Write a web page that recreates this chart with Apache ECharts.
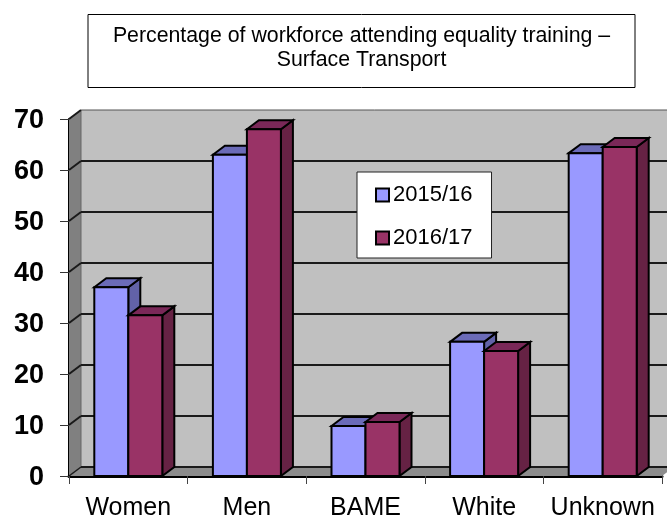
<!DOCTYPE html>
<html><head><meta charset="utf-8">
<style>html,body{margin:0;padding:0;background:#fff}#c{width:667px;height:515px}</style>
<script src="https://cdn.jsdelivr.net/npm/echarts@6/dist/echarts.min.js"></script>
</head><body><div id="c"></div>
<script>
const categories = ['Women','Men','BAME','White','Unknown'];
const values2015 = [37, 63, 9.8, 26.3, 63.3];
const values2016 = [31.5, 68, 10.6, 24.5, 64.5];
const gridTicks = [0,10,20,30,40,50,60,70];
const titleText = 'Percentage of workforce attending equality training –\nSurface Transport';

const DX = 12, DY = -9, FONT = '"Liberation Sans", Arial, sans-serif';

function wallItem(params, api) {
  const g = params.coordSys, x0 = g.x, x1 = g.x + g.width, y0 = g.y, y1 = g.y + g.height;
  const line = (a, b, c, d, w, col) => ({type:'line', shape:{x1:a,y1:b,x2:c,y2:d}, style:{stroke:col||'#1a1a1a', lineWidth:w}, silent:true});
  const poly = (pts, fill) => ({type:'polygon', shape:{points:pts}, style:{fill, stroke:null}, silent:true});
  const children = [
    poly([[x0+DX,y0+DY],[x1+DX,y0+DY],[x1+DX,y1+DY],[x0+DX,y1+DY]], '#c0c0c0'),
    poly([[x0,y0],[x0+DX,y0+DY],[x0+DX,y1+DY],[x0,y1]], '#808080'),
    poly([[x0,y1],[x0+DX,y1+DY],[x1+DX,y1+DY],[x1,y1]], '#8c8c8c'),
    line(x0+DX,y0+DY,x0+DX,y1+DY,1,'#666'),
  ];
  gridTicks.forEach(t => {
    const y = api.coord([0,t])[1];
    children.push(line(x0,y,x0+DX,y+DY,t===0?1.5:2));
    children.push(line(x0+DX,y+DY,x1+DX,y+DY,t===70?1:2,t===70?'#555':'#1a1a1a'));
  });
  return {type:'group', children};
}

function barItem(dir, face, top, side) {
  return function (params, api) {
    const p = api.coord([api.value(0), api.value(1)]);
    const base = api.coord([api.value(0), 0]);
    const w = api.size([1,0])[0] * 0.2867;
    const l = dir < 0 ? p[0] - w : p[0], r = l + w, t = p[1], b = base[1];
    const st = f => ({fill:f, stroke:'#000', lineWidth:2, lineJoin:'miter'});
    return {type:'group', children:[
      {type:'polygon', shape:{points:[[r,t],[r+DX,t+DY],[r+DX,b+DY],[r,b]]}, style:st(side)},
      {type:'polygon', shape:{points:[[l,t],[l+DX,t+DY],[r+DX,t+DY],[r,t]]}, style:st(top)},
      {type:'rect', shape:{x:l,y:t,width:w,height:b-t}, style:st(face)},
    ]};
  };
}

const chart = echarts.init(document.getElementById('c'), null, {renderer:'canvas'});
chart.setOption({
  animation:false,
  backgroundColor:'#fff',
  title:{
    text:titleText, left:336.5, top:14, textAlign:'center',
    padding:[10,25,16,25], borderColor:'#000', borderWidth:1, backgroundColor:'#fff',
    textStyle:{fontFamily:FONT,fontSize:21.3,fontWeight:'normal',color:'#000',lineHeight:24}
  },
  legend:{
    data:['2015/16','2016/17'], orient:'vertical', left:357, top:172,
    padding:[12,19,9,18], itemGap:21, itemWidth:13, itemHeight:13,
    backgroundColor:'#fff', borderColor:'#222', borderWidth:1,
    textStyle:{fontFamily:FONT,fontSize:22,color:'#000',padding:[0,0,0,-1]},
    itemStyle:{borderColor:'#000',borderWidth:2},
    icon:'rect'
  },
  grid:{left:69,right:5,top:119,bottom:39,outerBoundsMode:'none'},
  xAxis:{
    type:'category', data:categories,
    axisLine:{show:true,lineStyle:{color:'#000',width:3}},
    axisTick:{show:true,length:8,lineStyle:{color:'#444',width:1}},
    axisLabel:{fontFamily:FONT,fontSize:25,color:'#000',margin:20,interval:0},
    splitLine:{show:false}
  },
  yAxis:{
    type:'value', min:0, max:70, interval:10,
    axisLine:{show:true,lineStyle:{color:'#000',width:2}},
    axisTick:{show:true,length:9,lineStyle:{color:'#333',width:1}},
    axisLabel:{fontFamily:FONT,fontSize:27,fontWeight:'bold',color:'#000',margin:25,verticalAlign:'top',lineHeight:4},
    splitLine:{show:false}
  },
  series:[
    {type:'custom',name:'walls',data:[[0]],renderItem:wallItem,z:1,silent:true,clip:false,encode:{x:0}},
    {type:'custom',name:'2015/16',z:2,clip:false,
     itemStyle:{color:'#9999ff',borderColor:'#000',borderWidth:2},
     data:categories.map((c,i)=>[i,values2015[i]]),encode:{x:0,y:1},
     renderItem:barItem(-1,'#9999ff','#6b6bb8','#6262a8')},
    {type:'custom',name:'2016/17',z:3,clip:false,
     itemStyle:{color:'#993366',borderColor:'#000',borderWidth:2},
     data:categories.map((c,i)=>[i,values2016[i]]),encode:{x:0,y:1},
     renderItem:barItem(1,'#993366','#7a2858','#662244')}
  ]
});
</script></body></html>
